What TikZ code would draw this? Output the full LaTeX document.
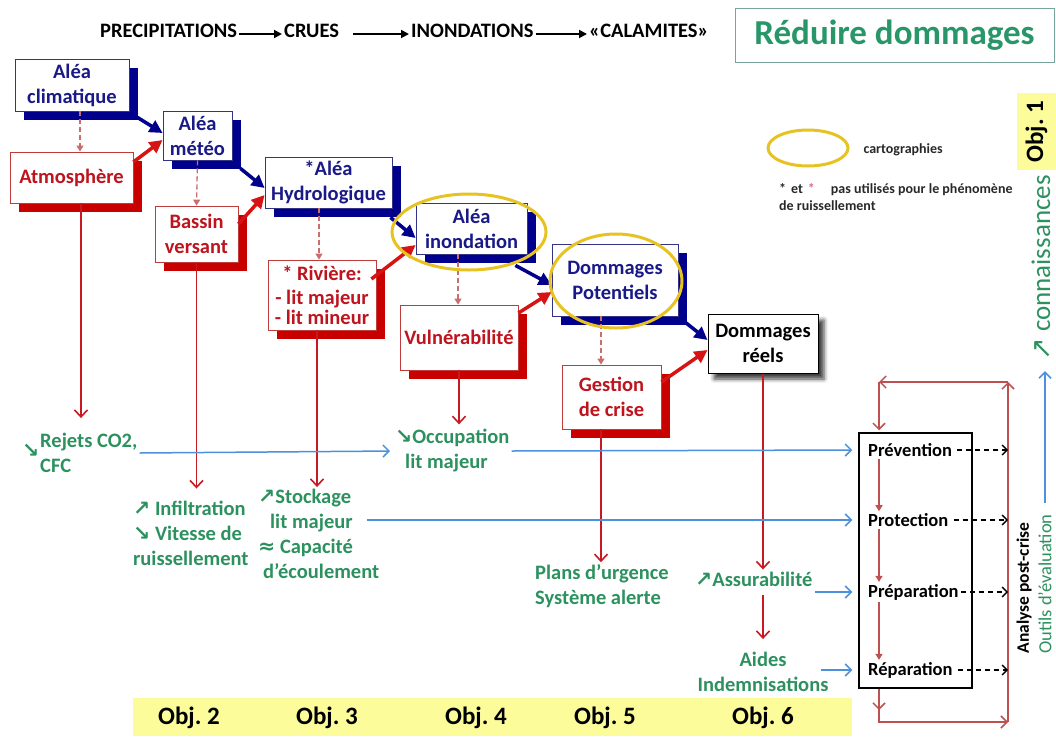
\documentclass[tikz,border=0pt]{standalone}
\usepackage{fontspec}
\setmainfont{Carlito}
\newfontfamily\symf{DejaVu Sans}
\usetikzlibrary{arrows.meta,shapes.geometric,shadows,shadows.blur}

\definecolor{navy}{RGB}{0,0,140}
\definecolor{navytxt}{RGB}{25,25,135}
\definecolor{redshadow}{RGB}{200,0,0}
\definecolor{redborder}{RGB}{190,60,60}
\definecolor{redtxt}{RGB}{190,20,30}
\definecolor{bigredc}{RGB}{215,20,20}
\definecolor{pinkline}{RGB}{200,110,110}
\definecolor{redthinc}{RGB}{200,25,35}
\definecolor{bluethinc}{RGB}{75,145,220}
\definecolor{loopred}{RGB}{190,80,80}
\definecolor{greentxt}{RGB}{45,145,95}
\definecolor{titlegreen}{RGB}{40,150,105}
\definecolor{boxteal}{RGB}{120,165,155}
\definecolor{goldring}{RGB}{230,195,35}
\definecolor{yellowband}{RGB}{252,252,155}
\definecolor{pinkstar}{RGB}{230,100,130}
\definecolor{legtxt}{RGB}{40,40,40}

\newcommand{\boxfont}{\fontsize{20.5}{25}\selectfont\bfseries}
\newcommand{\titlefont}{\fontsize{35}{40}\selectfont\bfseries}
\newcommand{\legfont}{\fontsize{14}{17}\selectfont\bfseries}
\newcommand{\itemfont}{\fontsize{18.5}{22}\selectfont\bfseries}
\newcommand{\objfont}{\fontsize{25}{30}\selectfont\bfseries}
\newcommand{\postfont}{\fontsize{17.5}{20}\selectfont\bfseries}
\newcommand{\outilfont}{\fontsize{18.5}{20}\selectfont}
\newcommand{\connfont}{\fontsize{27}{30}\selectfont}
\newcommand{\hausse}{{\symf ↗}}
\newcommand{\baisse}{{\symf ↘}}
\newcommand{\approxi}{{\symf ≈}}

\begin{document}
\frenchspacing
\begin{tikzpicture}[x=1pt,y=-1pt,
    bluebox/.style={draw=navy!60!gray, line width=0.8pt, fill=white, text=navytxt, font=\boxfont, align=center, inner sep=2pt,
      drop shadow={shadow xshift=9pt, shadow yshift=-9pt, fill=navy, opacity=1}},
    redbox/.style={draw=redborder, line width=0.8pt, fill=white, text=redtxt, font=\boxfont, align=center, inner sep=2pt,
      drop shadow={shadow xshift=9pt, shadow yshift=-9pt, fill=redshadow, opacity=1}},
    realbox/.style={draw=black, line width=1pt, fill=white, text=black, font=\boxfont, align=center, inner sep=2pt,
      blur shadow={shadow xshift=6pt, shadow yshift=-6pt, shadow blur radius=4pt, shadow opacity=75}},
    greentext/.style={text=greentxt, font=\boxfont, align=left, inner sep=2pt},
    headtext/.style={text=black, font=\boxfont, inner sep=2pt, anchor=west},
    objtext/.style={text=black, font=\objfont},
    stepitem/.style={text=black, font=\itemfont, anchor=west, inner sep=2pt},
    bigblue/.style={draw=navy, line width=3.5pt, -{Triangle[length=13pt,width=13pt]}},
    bigred/.style={draw=bigredc, line width=3.5pt, -{Triangle[length=13pt,width=13pt]}},
    dashpink/.style={draw=pinkline, line width=1.3pt, dash pattern=on 5pt off 3pt, -{Triangle[length=6pt,width=7pt]}},
    redthin/.style={draw=redthinc, line width=1.6pt, -{Straight Barb[length=7pt,width=13pt]}},
    bluethin/.style={draw=bluethinc, line width=1.5pt, -{Straight Barb[length=6pt,width=12pt]}},
    loopline/.style={draw=loopred, line width=1.5pt, -{Straight Barb[length=6pt,width=12pt]}},
    innerarrow/.style={draw=loopred, line width=1.3pt, -{Triangle[length=6pt,width=7pt]}},
    dashblack/.style={draw=black, line width=1.3pt, dash pattern=on 5pt off 4pt, -{Straight Barb[length=5pt,width=10pt]}},
    headarrow/.style={draw=black, line width=1.8pt, -{Triangle[length=8pt,width=8pt]}},
    cartoring/.style={ellipse, draw=goldring, line width=3pt, inner sep=0pt}]

    \useasboundingbox (0,0) rectangle (1056,736);

    % Header
    \node[headtext] (precip) at (98,31) {PRECIPITATIONS};
    \node[headtext] (crues) at (282,31) {CRUES};
    \node[headtext] (inondh) at (409,31) {INONDATIONS};
    \node[headtext] (calam) at (587,31) {«CALAMITES»};
    \draw[headarrow] ([yshift=-3pt]precip.east) -- ([yshift=-3pt]crues.west);
    \draw[headarrow, shorten <=12pt] ([yshift=-3pt]crues.east) -- ([yshift=-3pt]inondh.west);
    \draw[headarrow] ([yshift=-3pt]inondh.east) -- ([yshift=-3pt]calam.west);
    \node[draw=boxteal, line width=1pt, text=titlegreen, font=\titlefont, minimum width=319pt, minimum height=54pt] (titre) at (894.5,35) {Réduire dommages};

    % Legend
    \node[fill=yellowband, rotate=90, font=\objfont, minimum width=77pt, minimum height=39pt, inner sep=0pt] (obj1) at (1036.5,131.5) {Obj. 1};
    \node[cartoring, minimum width=80pt, minimum height=36pt] (legring) at (808,148) {};
    \node[font=\legfont, text=legtxt, anchor=west] (legcarto) at (860,150) {cartographies};
    \node[font=\legfont, text=legtxt, anchor=north west, align=left, inner sep=0pt] (legnote) at (779,183)
      {*\hspace{5pt}et\hspace{5pt}\textcolor{pinkstar}{*}\hspace{16pt}pas utilisés pour le phénomène\\de ruissellement};

    % Chain of boxes
    \node[bluebox, minimum width=114pt, minimum height=52pt] (climat) at (72,85) {Aléa\\climatique};
    \node[redbox, minimum width=123pt, minimum height=51pt] (atmo) at (71.5,177.5) {Atmosphère};
    \node[bluebox, minimum width=69pt, minimum height=49pt] (meteo) at (197.5,135.5) {Aléa\\météo};
    \node[redbox, minimum width=83pt, minimum height=56pt] (bassin) at (196.5,234) {Bassin\\versant};
    \node[bluebox, minimum width=127pt, minimum height=51pt] (hydro) at (328.5,182.5) {*Aléa\\Hydrologique};
    \node[redbox, minimum width=108pt, minimum height=70pt, font={\fontsize{20.5}{20}\selectfont\bfseries}] (riviere) at (322,295) {* Rivière:\\[4pt]- lit majeur\\- lit mineur};
    \node[bluebox, minimum width=111pt, minimum height=51pt] (inond) at (471.5,228.5) {Aléa\\inondation};
    \node[redbox, minimum width=118pt, minimum height=65pt] (vuln) at (459,337.5) {Vulnérabilité};
    \node[bluebox, minimum width=126pt, minimum height=72pt] (potent) at (615,280) {Dommages\\Potentiels};
    \node[redbox, minimum width=99pt, minimum height=64pt] (gestion) at (611.5,397) {Gestion\\de crise};
    \node[realbox, minimum width=110pt, minimum height=59pt] (reels) at (763,343.5) {Dommages\\réels};

    % Thick links
    \draw[bigblue] ([xshift=8pt,yshift=-6pt]climat.south east) -- ([yshift=2.5pt]meteo.west);
    \draw[bigred] ([yshift=15.5pt]atmo.east) -- ([yshift=-4.5pt]meteo.west);
    \draw[bigblue] ([xshift=8pt,yshift=-8pt]meteo.south east) -- ([yshift=-5.5pt]hydro.west);
    \draw[bigred] ([yshift=10pt]bassin.east) -- ([yshift=-12.5pt]hydro.west);
    \draw[bigblue] ([xshift=-2pt,yshift=-9pt]hydro.south east) -- ([yshift=-9.5pt]inond.west);
    \draw[bigred] ([xshift=-5pt,yshift=16pt]riviere.east) -- ([yshift=-16.5pt]inond.west);
    \draw[bigblue] ([xshift=-12pt,yshift=-11pt]inond.south east) -- ([yshift=-5pt]potent.west);
    \draw[bigred] ([yshift=24.5pt]vuln.east) -- ([yshift=-12pt]potent.west);
    \draw[bigblue] ([xshift=7pt,yshift=-6pt]potent.south east) -- ([yshift=3.5pt]reels.west);
    \draw[bigred] ([yshift=15pt]gestion.east) -- ([yshift=-6.5pt]reels.west);

    % Dashed links
    \draw[dashpink] ([xshift=8pt]climat.south) -- ([xshift=8.5pt]atmo.north);
    \draw[dashpink] (meteo.south) -- (bassin.north);
    \draw[dashpink] ([xshift=-9.5pt]hydro.south) -- ([xshift=-3pt]riviere.north);
    \draw[dashpink] ([xshift=-13.5pt]inond.south) -- ([xshift=-1pt]vuln.north);
    \draw[dashpink] ([xshift=-14pt]potent.south) -- ([xshift=-10.5pt]gestion.north);

    % Consequences
    \node[greentext, anchor=west] (rejets) at (38,453) {\llap{\raisebox{-10pt}{\baisse}\hspace{1pt}}Rejets CO2,\\CFC};
    \node[greentext, anchor=west] (infil) at (131,533) {\hausse\ Infiltration\\\baisse\ Vitesse de\\ruissellement};
    \node[greentext, anchor=west] (stock) at (256,534) {\hausse Stockage\\\hspace*{12pt}lit majeur\\\approxi\ Capacité\\\hspace*{5pt}d’écoulement};
    \node[greentext, anchor=west] (occup) at (393,451) {\baisse Occupation\\\hspace*{10pt}lit majeur};
    \node[greentext, anchor=west] (plans) at (533,586) {Plans d’urgence\\Système alerte};
    \node[greentext, anchor=west] (assur) at (693,579) {\hausse Assurabilité};
    \node[greentext, align=center] (aides) at (763,672) {Aides\\Indemnisations};

    \coordinate (atmoout) at ([xshift=9.5pt]atmo.south);
    \coordinate (rivout) at ([xshift=-5pt]riviere.south);
    \coordinate (gestout) at ([xshift=-10.5pt]gestion.south);
    \draw[redthin, shorten >=13pt] (atmoout) -- (atmoout |- rejets.north);
    \draw[redthin, shorten >=10pt] (bassin.south) -- (bassin.south |- infil.north);
    \draw[redthin] (rivout) -- (rivout |- stock.north);
    \draw[redthin, shorten >=3pt] (vuln.south) -- (vuln.south |- occup.north);
    \draw[redthin] (gestout) -- (gestout |- plans.north);
    \draw[redthin] (reels.south) -- (reels.south |- assur.north);
    \draw[redthin, shorten <=7pt, shorten >=11pt] (aides.north |- assur.south) -- (aides.north);

    % Cycle
    \node[draw=black, line width=1.5pt, minimum width=113pt, minimum height=255pt] (cycle) at (915.5,560.5) {};
    \node[stepitem] (prev) at (866,450) {Prévention};
    \node[stepitem] (prot) at (866,520) {Protection};
    \node[stepitem] (prep) at (866,592) {Préparation};
    \node[stepitem] (repar) at (866,670) {Réparation};
    \draw[innerarrow] ([xshift=13pt]prev.south west) -- ([xshift=13pt]prot.north west);
    \draw[innerarrow] ([xshift=13pt]prot.south west) -- ([xshift=13pt]prep.north west);
    \draw[innerarrow] ([xshift=13pt]prep.south west) -- ([xshift=13pt]repar.north west);

    \coordinate (loopTL) at (879,382);
    \coordinate (loopTR) at (1008,382);
    \coordinate (loopBL) at (879,722);
    \coordinate (loopBR) at (1008,722);
    \draw[loopline] (loopBR) -- (loopTR);
    \draw[loopline] (loopTR) -- (loopTL);
    \draw[loopline, shorten >=2pt] (loopTL) -- (cycle.north -| loopTL);
    \draw[loopline] (cycle.south -| loopBL) -- (loopBL) -- (loopBR);
    \draw[loopline] (cycle.south -| loopBL) -- ([yshift=12pt]loopBL);
    \draw[dashblack, shorten <=3pt] (prev.east) -- (prev -| loopTR);
    \draw[dashblack, shorten <=3pt] (prot.east) -- (prot -| loopTR);
    \draw[dashblack] (prep.east) -- (prep -| loopTR);
    \draw[dashblack, shorten <=3pt] (repar.east) -- (repar -| loopTR);

    % Blue feeds
    \draw[bluethin, shorten >=3pt] (rejets.east) -- (occup.west);
    \draw[bluethin, shorten >=6pt] (occup.east) -- (prev -| cycle.west);
    \draw[bluethin, shorten <=-14pt, shorten >=6pt] (prot -| stock.east) -- (prot -| cycle.west);
    \draw[bluethin, shorten >=6pt] (assur.east |- prep) -- (prep -| cycle.west);
    \draw[bluethin, shorten <=-10pt, shorten >=6pt] (aides.east |- repar) -- (repar -| cycle.west);

    % Right side
    \node[rotate=90, font=\postfont, text=black] (analyse) at (1024,588) {Analyse post-crise};
    \node[rotate=90, font=\outilfont, text=greentxt] (outils) at (1045,584) {Outils d’évaluation};
    \node[rotate=90, font=\connfont, text=greentxt] (connais) at (1041,268) {\hausse\ connaissances};
    \draw[bluethin, shorten <=8pt, shorten >=7pt] (outils.east) -- (outils.east |- connais.west);

    % Objectives
    \fill[yellowband] (133,698) rectangle (852,736);
    \node[objtext] (obj2) at (189,718) {Obj. 2};
    \node[objtext] (obj3) at (327,718) {Obj. 3};
    \node[objtext] (obj4) at (476,718) {Obj. 4};
    \node[objtext] (obj5) at (605,718) {Obj. 5};
    \node[objtext] (obj6) at (763,718) {Obj. 6};

    % Mapping rings
    \node[cartoring, minimum width=154pt, minimum height=76pt] (ringinond) at (469,232) {};
    \node[cartoring, minimum width=132pt, minimum height=94pt] (ringpot) at (616,281) {};
\end{tikzpicture}
\end{document}
